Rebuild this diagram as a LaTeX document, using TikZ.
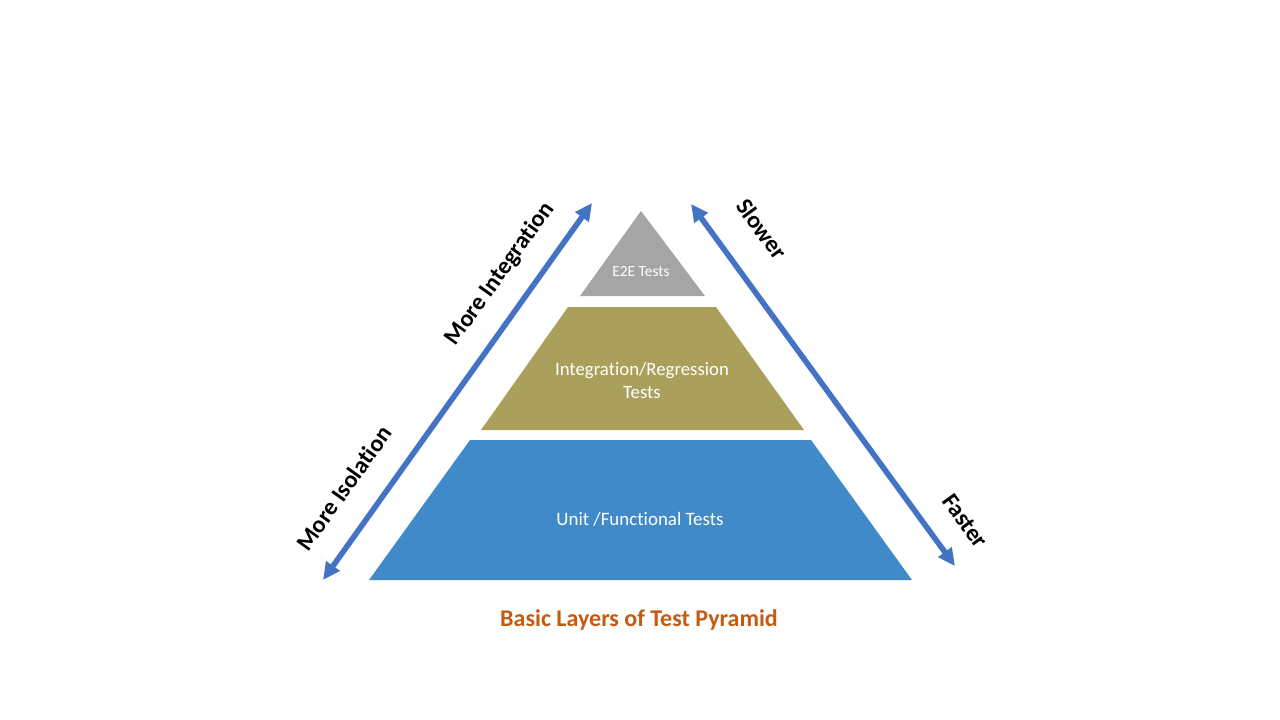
\documentclass[tikz,border=0pt]{standalone}
\usepackage{fontspec}
\setmainfont{Carlito}[Ligatures=NoCommon]
\usepackage{tikz}
\usetikzlibrary{arrows.meta, calc}

\definecolor{layergray}{HTML}{A5A5A5}
\definecolor{layerolive}{HTML}{AAA05B}
\definecolor{layerblue}{HTML}{418AC9}
\definecolor{arrowblue}{HTML}{4472C4}
\definecolor{titleorange}{HTML}{C55A11}

\tikzset{
  sidearrow/.style={line width=4.2pt, arrowblue, {Triangle[length=13pt,width=12pt]}-{Triangle[length=13pt,width=12pt]}},
  sidelabel/.style={font=\bfseries\fontsize{18}{22}\selectfont, text=black},
  layertext/.style={text=white, align=center}
}

\begin{document}
\begin{tikzpicture}[x=0.75pt,y=-0.75pt]
\useasboundingbox (0,0) rectangle (1280,720);
% layers
\fill[layergray](641,211) -- (705,296) -- (580,296) -- cycle;
\fill[layerolive](568,307) -- (716,307) -- (804,430) -- (481,430) -- cycle;
\fill[layerblue](470,440) -- (811,440) -- (912,580) -- (369,580) -- cycle;
\node[layertext,font=\fontsize{11.6}{14}\selectfont] (e2e) at (641,272) {E2E Tests};
\node[layertext,font=\fontsize{14.1}{17.3}\selectfont] (integ) at (642,381) {Integration/Regression\\Tests};
\node[layertext,font=\fontsize{14.2}{17}\selectfont] (unit) at (640,519) {Unit /Functional Tests};
% arrows
\coordinate (leftlow) at (323,580);
\coordinate (lefthigh) at (592,203);
\coordinate (righthigh) at (691,204);
\coordinate (rightlow) at (955,566);
\draw[sidearrow](leftlow) -- (lefthigh);
\draw[sidearrow](righthigh) -- (rightlow);
\node[sidelabel,rotate=54.5] (integration) at (500,274) {More Integration};
\node[sidelabel,rotate=54.5] (isolation) at (344,488) {More Isolation};
\node[sidelabel,rotate=-54] (slower) at (762,229) {Slower};
\node[sidelabel,rotate=-54] (faster) at (965,521) {Faster};
% title
\node[font=\bfseries\fontsize{18}{22}\selectfont, text=titleorange] (title) at (639,620) {Basic Layers of Test Pyramid};
\end{tikzpicture}
\end{document}
